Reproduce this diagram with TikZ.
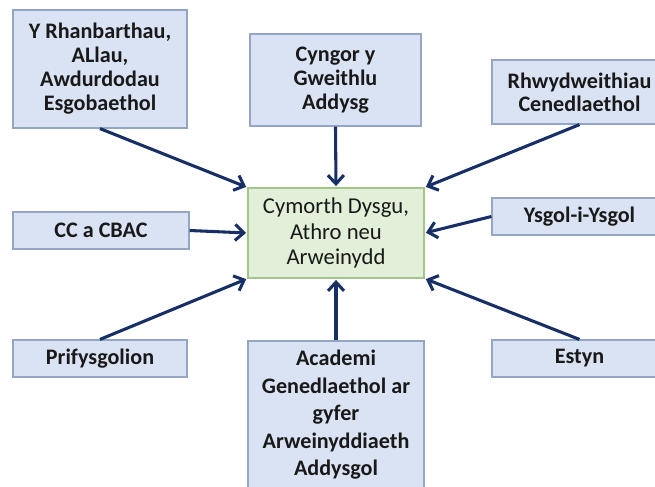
\documentclass[tikz,border=0pt]{standalone}
\usepackage{fontspec}
\setmainfont{Carlito}
\usetikzlibrary{arrows.meta, positioning}
\newlength\px
\setlength\px{0.75pt}
\definecolor{boxfill}{HTML}{DAE3F3}
\definecolor{boxline}{HTML}{94A6C4}
\definecolor{midfill}{HTML}{E2EFD9}
\definecolor{midline}{HTML}{A3C48A}
\definecolor{navy}{HTML}{172F66}
\tikzset{%
  box/.style={draw=boxline, fill=boxfill, line width=0.9pt, inner sep=0pt,
    align=center, text=black!90, font=\bfseries\fontsize{16.6}{18}\selectfont},
  mid/.style={box, draw=midline, fill=midfill, font=\fontsize{17}{19}\selectfont},
  link/.style={-{Straight Barb[length=6.5pt,width=12pt]}, line width=2.3pt, draw=navy, shorten >=1pt}
}
\begin{document}
\begin{tikzpicture}[x=0.75pt, y=-0.75pt]
  \useasboundingbox (0,0) rectangle (655,486);
  \clip (0,0) rectangle (655,486);

  \node[mid, minimum width=176\px, minimum height=90\px] (canol) at (336,233)
    {Cymorth Dysgu,\\Athro neu\\Arweinydd};

  \node[box, minimum width=174\px, minimum height=118\px] (rhan) at (100,69)
    {Y Rhanbarthau,\\ALlau,\\Awdurdodau\\Esgobaethol};
  \node[box, minimum width=171\px, minimum height=92\px] (cyngor) at (335.5,80)
    {Cyngor y\\Gweithlu\\Addysg};
  \node[box, minimum width=175\px, minimum height=64\px,
    font=\bfseries\fontsize{16.6}{17.3}\selectfont] (rhwyd) at (579.5,92)
    {Rhwydweithiau\\Cenedlaethol};

  \node[box, minimum width=176\px, minimum height=37\px] (cc) at (101,230.5) {CC a CBAC};
  \node[box, minimum width=175\px, minimum height=37\px] (ysgol) at (579.5,216.5) {Ysgol-i-Ysgol};

  \node[box, minimum width=174\px, minimum height=37\px] (prif) at (100,358.5) {Prifysgolion};
  \node[box, minimum width=176\px, minimum height=148\px,
    font=\bfseries\fontsize{16.6}{20.6}\selectfont] (academi) at (336,415)
    {Academi\\Genedlaethol ar\\gyfer\\Arweinyddiaeth\\Addysgol};
  \node[box, minimum width=175\px, minimum height=37\px] (estyn) at (579.5,358.5) {Estyn};

  \draw[link] (rhan.south) to (canol.north west);
  \draw[link] (cyngor.south) to (canol.north);
  \draw[link] (rhwyd.south) to (canol.north east);
  \draw[link] (cc.east) to (canol.west);
  \draw[link] (ysgol.west) to (canol.east);
  \draw[link] (prif.north) to (canol.south west);
  \draw[link] (academi.north) to (canol.south);
  \draw[link] (estyn.north) to (canol.south east);
\end{tikzpicture}
\end{document}
